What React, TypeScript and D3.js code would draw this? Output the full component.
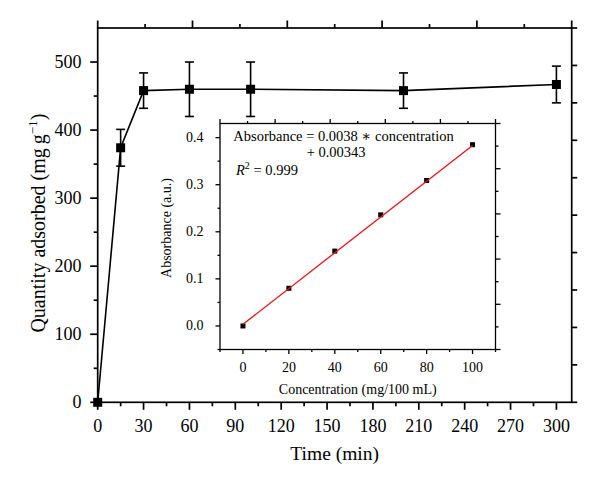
import React from "react";
import * as d3 from "d3";

const times = [0, 15, 30, 60, 100, 200, 300];
const quantity = [0, 374, 458, 460, 460, 458, 467];
const quantityErr = [0, 27, 26, 40, 40, 26, 27];
const xTickLabels = [0, 30, 60, 90, 120, 150, 180, 210, 240, 270, 300];
const yTickLabels = [0, 100, 200, 300, 400, 500];

const concentration = [0, 20, 40, 60, 80, 100];
const absorbance = [0.0, 0.08, 0.159, 0.236, 0.309, 0.385];
const fitSlope = 0.0038;
const fitIntercept = 0.00343;
const insetXTicks = [0, 20, 40, 60, 80, 100];
const insetYTicks = [0.0, 0.1, 0.2, 0.3, 0.4];

const FONT = "'Liberation Serif', 'DejaVu Serif', serif";

export default function App() {
  const x = d3.scaleLinear().domain([0, 310]).range([97.7, 571.7]);
  const y = d3.scaleLinear().domain([0, 550]).range([402.3, 28]);
  const ix = d3.scaleLinear().domain([-10, 110]).range([220, 495.5]);
  const iy = d3.scaleLinear().domain([-0.05, 0.43]).range([349.5, 123.5]);

  const [x0, x1] = x.range();
  const [yb, yt] = y.range();
  const [ix0, ix1] = ix.range();
  const [iyb, iyt] = iy.range();

  const line = d3
    .line<number>()
    .x((_, i) => x(times[i]))
    .y((d) => y(d));

  const xMinor = d3.range(15, 300, 30);
  const yMinor = d3.range(50, 550, 100);
  const topTicks = d3.range(0, 11).map((k) => ({ v: (310 * k) / 10, long: k % 2 === 0 }));
  const rightTicks = d3.range(0, 11).map((k) => (550 * k) / 10);

  const ixMinor = d3.range(-10, 111, 20);
  const iyMinor = [-0.05, 0.05, 0.15, 0.25, 0.35];
  const itopTicks = d3.range(0, 11).map((k) => ({ v: -10 + (120 * k) / 10, long: k % 2 === 0 }));
  const irightTicks = d3.range(0, 11).map((k) => ({ v: -0.05 + (0.48 * k) / 10, long: k % 2 === 0 }));

  const fitLine = d3
    .line<number>()
    .x((c) => ix(c))
    .y((c) => iy(fitSlope * c + fitIntercept));

  const ms = 9;
  const ims = 5;
  const sw = 1.7;
  const isw = 1.3;

  return (
    <svg
      width={600}
      height={488}
      style={{ position: "absolute", left: 0, top: 0, background: "#fff" }}
      fontFamily={FONT}
    >
      <rect x={0} y={0} width={600} height={488} fill="#fff" />
      {/* Main frame */}
      <g stroke="#000" strokeWidth={sw} fill="none">
        <rect x={x0} y={yt} width={x1 - x0} height={yb - yt} />
        {xTickLabels.map((v) => (
          <line key={"xb" + v} x1={x(v)} x2={x(v)} y1={yb} y2={yb + 7.5} />
        ))}
        {xMinor.map((v) => (
          <line key={"xm" + v} x1={x(v)} x2={x(v)} y1={yb} y2={yb + 4} />
        ))}
        {yTickLabels.map((v) => (
          <line key={"yl" + v} x1={x0} x2={x0 - 7.5} y1={y(v)} y2={y(v)} />
        ))}
        {yMinor.map((v) => (
          <line key={"ym" + v} x1={x0} x2={x0 - 4} y1={y(v)} y2={y(v)} />
        ))}
        {topTicks.map((t) => (
          <line key={"t" + t.v} x1={x(t.v)} x2={x(t.v)} y1={yt} y2={yt - (t.long ? 7.5 : 4)} />
        ))}
        {rightTicks.map((v) => (
          <line key={"r" + v} x1={x1} x2={x1 + 5.5} y1={y(v)} y2={y(v)} />
        ))}
      </g>
      {/* Main tick labels */}
      <g fontSize={18} fill="#000">
        {xTickLabels.map((v) => (
          <text key={"xl" + v} x={x(v)} y={431.5} textAnchor="middle">
            {v}
          </text>
        ))}
        {yTickLabels.map((v) => (
          <text key={"yl" + v} x={81.5} y={y(v)} textAnchor="end" dominantBaseline="central">
            {v}
          </text>
        ))}
      </g>
      <text x={(x0 + x1) / 2} y={460} fontSize={19.5} textAnchor="middle">
        Time (min)
      </text>
      <text
        transform={`translate(45, ${(yb + yt) / 2 + 8}) rotate(-90)`}
        fontSize={20}
        textAnchor="middle"
      >
        Quantity adsorbed (mg
        <tspan dx={4}>g</tspan>
        <tspan dy={-8} fontSize={13}>
          −1
        </tspan>
        <tspan dy={8}>)</tspan>
      </text>

      {/* Main series */}
      <path d={line(quantity) || ""} fill="none" stroke="#000" strokeWidth={1.6} />
      <g stroke="#000" strokeWidth={1.6}>
        {times.map((t, i) =>
          quantityErr[i] > 0 ? (
            <g key={"e" + t}>
              <line x1={x(t)} x2={x(t)} y1={y(quantity[i] + quantityErr[i])} y2={y(quantity[i] - quantityErr[i])} />
              <line x1={x(t) - 4.5} x2={x(t) + 4.5} y1={y(quantity[i] + quantityErr[i])} y2={y(quantity[i] + quantityErr[i])} />
              <line x1={x(t) - 4.5} x2={x(t) + 4.5} y1={y(quantity[i] - quantityErr[i])} y2={y(quantity[i] - quantityErr[i])} />
            </g>
          ) : null
        )}
      </g>
      {times.map((t, i) => (
        <rect key={"m" + t} x={x(t) - ms / 2} y={y(quantity[i]) - ms / 2} width={ms} height={ms} fill="#000" />
      ))}

      {/* Inset frame */}
      <g stroke="#000" strokeWidth={isw} fill="none">
        <rect x={ix0} y={iyt} width={ix1 - ix0} height={iyb - iyt} />
        {insetXTicks.map((v) => (
          <line key={"ixb" + v} x1={ix(v)} x2={ix(v)} y1={iyb} y2={iyb + 4.5} />
        ))}
        {ixMinor.map((v) => (
          <line key={"ixm" + v} x1={ix(v)} x2={ix(v)} y1={iyb} y2={iyb + 2.5} />
        ))}
        {insetYTicks.map((v) => (
          <line key={"iyl" + v} x1={ix0} x2={ix0 - 4.5} y1={iy(v)} y2={iy(v)} />
        ))}
        {iyMinor.map((v) => (
          <line key={"iym" + v} x1={ix0} x2={ix0 - 2.5} y1={iy(v)} y2={iy(v)} />
        ))}
        {itopTicks.map((t) => (
          <line key={"it" + t.v} x1={ix(t.v)} x2={ix(t.v)} y1={iyt} y2={iyt - (t.long ? 4.5 : 2.5)} />
        ))}
        {irightTicks.map((t) => (
          <line key={"ir" + t.v} x1={ix1} x2={ix1 + (t.long ? 5 : 3)} y1={iy(t.v)} y2={iy(t.v)} />
        ))}
      </g>
      <g fontSize={14} fill="#000">
        {insetXTicks.map((v) => (
          <text key={"ixl" + v} x={ix(v)} y={371.5} textAnchor="middle">
            {v}
          </text>
        ))}
        {insetYTicks.map((v) => (
          <text key={"iyl" + v} x={203.5} y={iy(v)} textAnchor="end" dominantBaseline="central">
            {v.toFixed(1)}
          </text>
        ))}
      </g>
      <text x={(ix0 + ix1) / 2} y={394} fontSize={14} textAnchor="middle">
        Concentration (mg/100 mL)
      </text>
      <text transform={`translate(170.5, 228) rotate(-90)`} fontSize={14} textAnchor="middle">
        Absorbance (a.u.)
      </text>
      {concentration.map((c, i) => (
        <rect key={"im" + c} x={ix(c) - ims / 2} y={iy(absorbance[i]) - ims / 2} width={ims} height={ims} fill="#000" />
      ))}
      <path d={fitLine([0, 100]) || ""} fill="none" stroke="#e3141b" strokeWidth={1.3} />
      <g fontSize={14.5} fill="#000">
        <text x={233.3} y={140.5}>
          Absorbance = 0.0038 ∗ concentration
        </text>
        <text x={306.7} y={157}>
          + 0.00343
        </text>
        <text x={236} y={175}>
          <tspan fontStyle="italic">R</tspan>
          <tspan dy={-6} fontSize={10}>
            2
          </tspan>
          <tspan dy={6}> = 0.999</tspan>
        </text>
      </g>
    </svg>
  );
}
